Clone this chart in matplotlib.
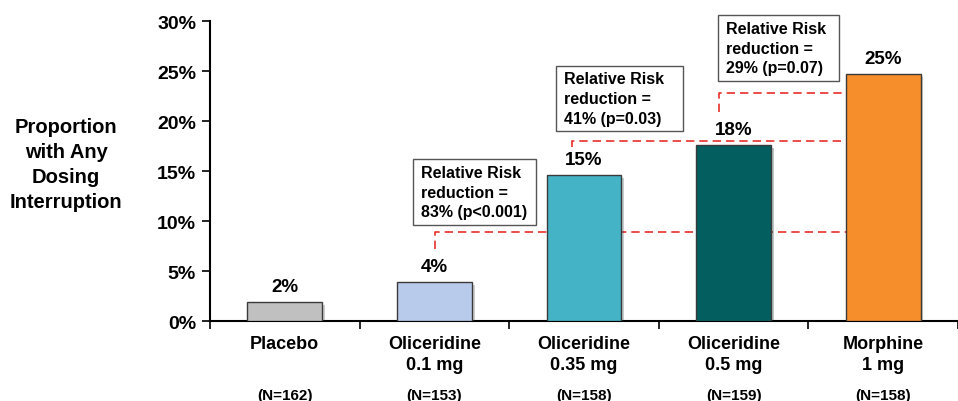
import matplotlib.pyplot as plt
import matplotlib.patheffects as pe
from matplotlib.patches import Rectangle
from matplotlib.transforms import blended_transform_factory

plt.rcParams['font.family'] = ['Liberation Sans', 'DejaVu Sans']
plt.rcParams['font.weight'] = 'bold'

# groups and values (percent of patients)
groups = ["Placebo", "Oliceridine\n0.1 mg", "Oliceridine\n0.35 mg",
          "Oliceridine\n0.5 mg", "Morphine\n1 mg"]
n_labels = ["(N=162)", "(N=153)", "(N=158)", "(N=159)", "(N=158)"]
values = [1.9, 3.9, 14.6, 17.6, 24.7]
value_labels = ["2%", "4%", "15%", "18%", "25%"]
colors = ["#C0C0C0", "#B9CBEB", "#45B3C6", "#035E60", "#F68E2B"]

# relative risk reduction vs. morphine for each oliceridine dose
rr_text = ["Relative Risk\nreduction =\n83% (p<0.001)",
           "Relative Risk\nreduction =\n41% (p=0.03)",
           "Relative Risk\nreduction =\n29% (p=0.07)"]
# connector: (x, bottom, level)
rr_links = [(1.007, 7.2, 8.9), (1.921, 17.4, 18.0), (2.901, 20.9, 22.8)]
# box: (left, right, bottom, top)
rr_boxes = [(0.855, 1.678, 9.6, 16.2), (1.816, 2.664, 19.0, 25.5),
            (2.895, 3.704, 24.0, 30.6)]

fig = plt.figure(figsize=(9.58, 4.02), dpi=100)
ax = fig.add_axes([0.2192, 0.199, 0.7808, 0.746])

x = list(range(len(groups)))
bars = ax.bar(x, values, width=0.5, color=colors, edgecolor="#3a3a3a",
              linewidth=1.0, zorder=3)
for b in bars:
    b.set_path_effects([pe.SimplePatchShadow(offset=(2, -2), alpha=0.25),
                        pe.Normal()])

for xi, v, lab in zip(x, values, value_labels):
    ax.annotate(lab, (xi, v), xytext=(0, 5), textcoords="offset points",
                ha="center", va="bottom", fontsize=13.5, fontweight="bold")

# dashed red connectors to the morphine bar
morphine_left = x[-1] - 0.25
red = "#E8302A"
for (cx, y0, y1), (bl, br, bb, bt), txt in zip(rr_links, rr_boxes, rr_text):
    ax.plot([cx, cx, morphine_left], [y0, y1, y1], color=red, lw=1.2,
            ls=(0, (5, 3)), zorder=2, clip_on=False)
    ax.add_patch(Rectangle((bl, bb), br - bl, bt - bb, facecolor="white",
                           edgecolor="#555555", linewidth=1.0, zorder=4,
                           clip_on=False))
    ax.text(bl + 0.053, (bb + bt) / 2, txt, ha="left", va="center",
            fontsize=11.5, fontweight="bold", linespacing=1.4, zorder=5)

ax.set_ylim(0, 30)
ax.set_xlim(-0.5, 4.42)
ax.set_yticks(range(0, 31, 5))
ax.set_yticklabels([f"{t}%" for t in range(0, 31, 5)], fontsize=14,
                   fontweight="bold")
ax.tick_params(axis="y", length=6, width=1.2, pad=4)

ax.set_xticks(x)
ax.set_xticklabels(groups, fontsize=13, fontweight="bold", linespacing=1.35)
ax.set_xticks([i - 0.5 for i in range(len(groups) + 1)], minor=True)
ax.tick_params(axis="x", which="major", length=0, pad=10)
ax.tick_params(axis="x", which="minor", length=6, width=1.2)

for s in ["top", "right"]:
    ax.spines[s].set_visible(False)
ax.spines["left"].set_linewidth(1.5)
ax.spines["bottom"].set_linewidth(1.5)

trans = blended_transform_factory(ax.transData, fig.transFigure)
for xi, n in zip(x, n_labels):
    ax.text(xi, 0.015, n, transform=trans, ha="center", va="center",
            fontsize=11, fontweight="bold")

fig.text(0.069, 0.59, "Proportion\nwith Any\nDosing\nInterruption",
         ha="center", va="center", fontsize=14.5, fontweight="bold",
         linespacing=1.4)

fig.savefig("out.png", dpi=100)
